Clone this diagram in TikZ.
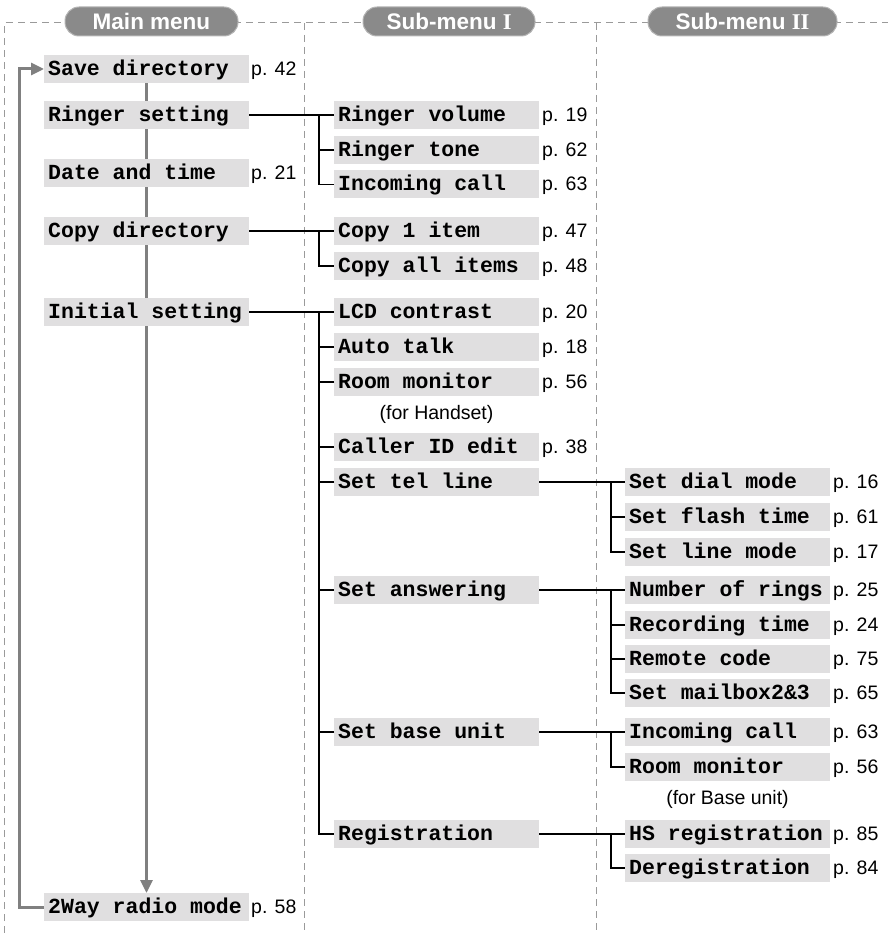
\documentclass[tikz,border=0pt]{standalone}
\usepackage{fontspec}
\setmainfont{Liberation Sans}
\newfontfamily\monof{Liberation Mono}
\newfontfamily\romf{Liberation Serif}
\usetikzlibrary{arrows.meta}
\definecolor{boxgray}{HTML}{E0DFE0}
\definecolor{linegray}{HTML}{808080}
\definecolor{dashgray}{HTML}{9A9A9A}
\definecolor{pillgray}{HTML}{8A8A8A}
\definecolor{pillborder}{HTML}{B5B5B5}
\newcommand{\itemfont}{\monof\bfseries\fontsize{21.5}{24}\selectfont}
\newcommand{\msp}{\kern0.6em\relax}
\begin{document}
\begin{tikzpicture}[x=1pt,y=-1pt,
  item/.style={fill=boxgray, anchor=west, minimum width=205pt, minimum height=28pt,
    inner xsep=4pt, inner ysep=0pt, text width=197pt,
    text height=12.4pt, text depth=0pt, font=\itemfont},
  pg/.style={anchor=base west, inner sep=0pt, font=\fontsize{19.5}{21}\selectfont},
  note/.style={anchor=base, inner sep=0pt, font=\fontsize{19.5}{21}\selectfont},
  gline/.style={draw=linegray, line width=3pt},
  conn/.style={draw=black, line width=1.6pt},
  dashln/.style={draw=dashgray, line width=1pt, dash pattern=on 7pt off 5pt},
  pill/.style={rounded corners=14pt, fill=pillgray, draw=pillborder, line width=1pt,
    minimum height=29pt, text=white, inner sep=0pt,
    font=\bfseries\fontsize{22.5}{24}\selectfont},
  arr/.style={-{Triangle[length=13pt,width=12pt]}}
]
\useasboundingbox (0,0) rectangle (888,933);

% frame
\draw[dashln] (4,933) -- (4,23) -- (888,23);
\draw[dashln] (304,23) -- (304,933);
\draw[dashln] (596,23) -- (596,933);

\node[pill, minimum width=173pt] (h1) at (151.5,21.5) {Main menu};
\node[pill, minimum width=172pt] (h2) at (449,21.5) {Sub-menu {\romf\bfseries I}};
\node[pill, minimum width=189pt] (h3) at (742.5,21.5) {Sub-menu {\romf\bfseries II}};

% gray flow (behind boxes)
\coordinate (top) at (146.5,83);
\coordinate (bot) at (146.5,893);
\draw[gline, arr] (top) -- (bot);

% main menu
\node[item] (m1) at (44,69) {Save\msp directory};
\node[item] (m2) at (44,115) {Ringer\msp setting};
\node[item] (m3) at (44,173) {Date\msp and\msp time};
\node[item] (m4) at (44,231) {Copy\msp directory};
\node[item] (m5) at (44,312) {Initial\msp setting};
\node[item] (m6) at (44,907) {2Way\msp radio\msp mode};
\node[pg] (pm1) at (251,75.2) {p. 42};
\node[pg] (pm3) at (251,179.2) {p. 21};
\node[pg] (pm6) at (251,913.2) {p. 58};

% sub-menu I
\node[item] (a1) at (334,115) {Ringer\msp volume};
\node[item] (a2) at (334,150) {Ringer\msp tone};
\node[item] (a3) at (334,184.5) {Incoming\msp call};
\node[item] (b1) at (334,231) {Copy\msp 1\msp item};
\node[item] (b2) at (334,266) {Copy\msp all\msp items};
\node[item] (c1) at (334,312) {LCD\msp contrast};
\node[item] (c2) at (334,347) {Auto\msp talk};
\node[item] (c3) at (334,382) {Room\msp monitor};
\node[note] (n1) at (436.5,419) {(for Handset)};
\node[item] (c4) at (334,447) {Caller\msp ID\msp edit};
\node[item] (c5) at (334,482) {Set\msp tel\msp line};
\node[item] (c6) at (334,590) {Set\msp answering};
\node[item] (c7) at (334,732) {Set\msp base\msp unit};
\node[item] (c8) at (334,834) {Registration};
\node[pg] (pa1) at (542,121.2) {p. 19};
\node[pg] (pa2) at (542,156.2) {p. 62};
\node[pg] (pa3) at (542,190.7) {p. 63};
\node[pg] (pb1) at (542,237.2) {p. 47};
\node[pg] (pb2) at (542,272.2) {p. 48};
\node[pg] (pc1) at (542,318.2) {p. 20};
\node[pg] (pc2) at (542,353.2) {p. 18};
\node[pg] (pc3) at (542,388.2) {p. 56};
\node[pg] (pc4) at (542,453.2) {p. 38};

% sub-menu II
\node[item] (d1) at (625,482) {Set\msp dial\msp mode};
\node[item] (d2) at (625,517) {Set\msp flash\msp time};
\node[item] (d3) at (625,552) {Set\msp line\msp mode};
\node[item] (e1) at (625,590) {Number\msp of\msp rings};
\node[item] (e2) at (625,625) {Recording\msp time};
\node[item] (e3) at (625,659) {Remote\msp code};
\node[item] (e4) at (625,693) {Set\msp mailbox2\&3};
\node[item] (f1) at (625,732) {Incoming\msp call};
\node[item] (f2) at (625,767) {Room\msp monitor};
\node[note] (n2) at (727.5,804) {(for Base unit)};
\node[item] (g1) at (625,834) {HS\msp registration};
\node[item] (g2) at (625,868) {Deregistration};
\node[pg] (pd1) at (833,488.2) {p. 16};
\node[pg] (pd2) at (833,523.2) {p. 61};
\node[pg] (pd3) at (833,558.2) {p. 17};
\node[pg] (pe1) at (833,596.2) {p. 25};
\node[pg] (pe2) at (833,631.2) {p. 24};
\node[pg] (pe3) at (833,665.2) {p. 75};
\node[pg] (pe4) at (833,699.2) {p. 65};
\node[pg] (pf1) at (833,738.2) {p. 63};
\node[pg] (pf2) at (833,773.2) {p. 56};
\node[pg] (pg1) at (833,840.2) {p. 85};
\node[pg] (pg2) at (833,874.2) {p. 84};

% loop back
\draw[gline, arr] (m6.west) -- ++(-25,0) |- (m1.west);

% main -> sub I
\draw[conn] (m2.east) -- (a1.west);
\draw[conn] (a1.west) ++(-15,0) |- (a3.west);
\draw[conn] (a2.west) -- ++(-15,0);
\draw[conn] (m4.east) -- (b1.west);
\draw[conn] (b1.west) ++(-15,0) |- (b2.west);
\draw[conn] (m5.east) -- (c1.west);
\draw[conn] (c1.west) ++(-15,0) |- (c8.west);
\foreach \n in {c2,c3,c4,c5,c6,c7} \draw[conn] (\n.west) -- ++(-15,0);

% sub I -> sub II
\draw[conn] (c5.east) -- (d1.west);
\draw[conn] (d1.west) ++(-14,0) |- (d3.west);
\draw[conn] (d2.west) -- ++(-14,0);
\draw[conn] (c6.east) -- (e1.west);
\draw[conn] (e1.west) ++(-14,0) |- (e4.west);
\draw[conn] (e2.west) -- ++(-14,0);
\draw[conn] (e3.west) -- ++(-14,0);
\draw[conn] (c7.east) -- (f1.west);
\draw[conn] (f1.west) ++(-14,0) |- (f2.west);
\draw[conn] (c8.east) -- (g1.west);
\draw[conn] (g1.west) ++(-14,0) |- (g2.west);
\end{tikzpicture}
\end{document}
